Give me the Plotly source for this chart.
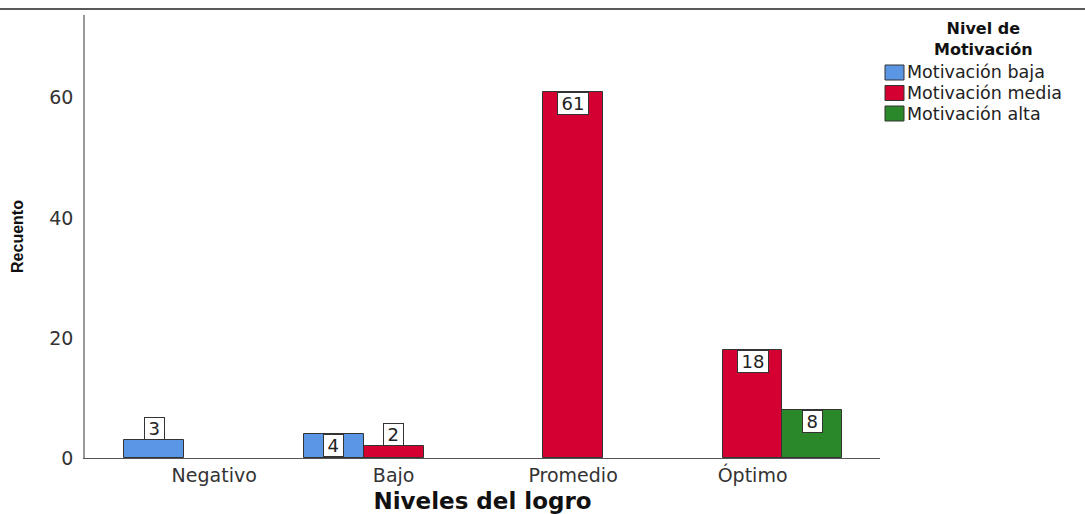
import plotly.graph_objects as go

# Data
categories = ["Negativo", "Bajo", "Promedio", "Óptimo"]
series_names = ["Motivación baja", "Motivación media", "Motivación alta"]
baja = [3, 4, None, None]
media = [None, 2, 61, 18]
alta = [None, None, None, 8]
series_values = [baja, media, alta]
colors = ["#5A96E3", "#D50032", "#2A872A"]

W, H = 1085, 514
L, R, T, B = 85, 205, 15, 56
PW, PH = W - L - R, H - T - B

FONT = "DejaVu Sans, Verdana, sans-serif"
SANS = "Liberation Sans, Arial, sans-serif"


def px(x):
    return (x - L) / PW


def py(y):
    return (H - B - y) / PH


fig = go.Figure()
for name, vals, col in zip(series_names, series_values, colors):
    fig.add_trace(go.Bar(
        x=categories,
        y=vals,
        name=name,
        marker=dict(color=col, line=dict(color="#333333", width=1)),
    ))

# White boxed value labels at the top of each bar (above if the bar is too short)
offsets = [-1/3, 0, 1/3]
annotations = []
for k, vals in enumerate(series_values):
    for i, v in enumerate(vals):
        if v is None:
            continue
        inside = v >= 4
        annotations.append(dict(
            x=i + offsets[k], y=v, xref="x", yref="y",
            text=f"\u2009{v}\u2009", showarrow=False,
            yanchor="top" if inside else "bottom",
            font=dict(family=FONT, size=18, color="#222222"),
            bgcolor="white", bordercolor="#333333", borderwidth=1, borderpad=0,
        ))

# Legend drawn as in the SPSS output: bold centred title, tight rows
annotations.append(dict(
    x=px(983), y=py(39), xref="paper", yref="paper", showarrow=False,
    text="<b>Nivel de<br>Motivación</b>", align="center",
    xanchor="center", yanchor="middle",
    font=dict(family=FONT, size=16, color="#111111"),
))
shapes = [dict(type="line", xref="paper", yref="paper",
               x0=px(0), x1=px(W), y0=py(9), y1=py(9),
               line=dict(color="#222222", width=1.5))]
for k, (name, col) in enumerate(zip(series_names, colors)):
    yc = 72.5 + 20.5 * k
    shapes.append(dict(type="rect", xref="paper", yref="paper",
                       x0=px(885), x1=px(904), y0=py(yc - 7.5), y1=py(yc + 7.5),
                       fillcolor=col, line=dict(color="#333333", width=1)))
    annotations.append(dict(
        x=px(905), y=py(yc), xref="paper", yref="paper", showarrow=False,
        text=name, xanchor="left", yanchor="middle",
        font=dict(family=FONT, size=17.5, color="#222222"),
    ))

fig.update_layout(
    width=W, height=H,
    margin=dict(l=L, r=R, t=T, b=B),
    paper_bgcolor="white", plot_bgcolor="white",
    barmode="group", bargap=0, bargroupgap=0,
    font=dict(family=FONT, size=19, color="#333333"),
    annotations=annotations,
    shapes=shapes,
    showlegend=False,
)

fig.update_xaxes(
    type="category", range=[-0.72, 3.71], automargin=False,
    showline=True, linecolor="#555555", linewidth=1,
    showgrid=False, zeroline=False, ticks="",
    tickfont=dict(family=FONT, size=19, color="#333333"),
    title=dict(text="<b>Niveles del logro</b>", standoff=12,
               font=dict(family=FONT, size=23, color="#111111")),
)
fig.update_yaxes(
    range=[0, 73.8], dtick=20, automargin=False,
    showline=True, linecolor="#999999", linewidth=1.5,
    showgrid=False, zeroline=False,
    ticks="outside", ticklen=6, tickcolor="rgba(0,0,0,0)",
    tickfont=dict(family=FONT, size=19, color="#333333"),
    title=dict(text="<b>Recuento</b>", standoff=22,
               font=dict(family=SANS, size=16, color="#111111")),
)

# the page body has an 8px default margin; drop it so the figure sits at 0,0
fig.write_html("out.html", config={"displayModeBar": False},
               post_script="document.body.style.margin='0';")
